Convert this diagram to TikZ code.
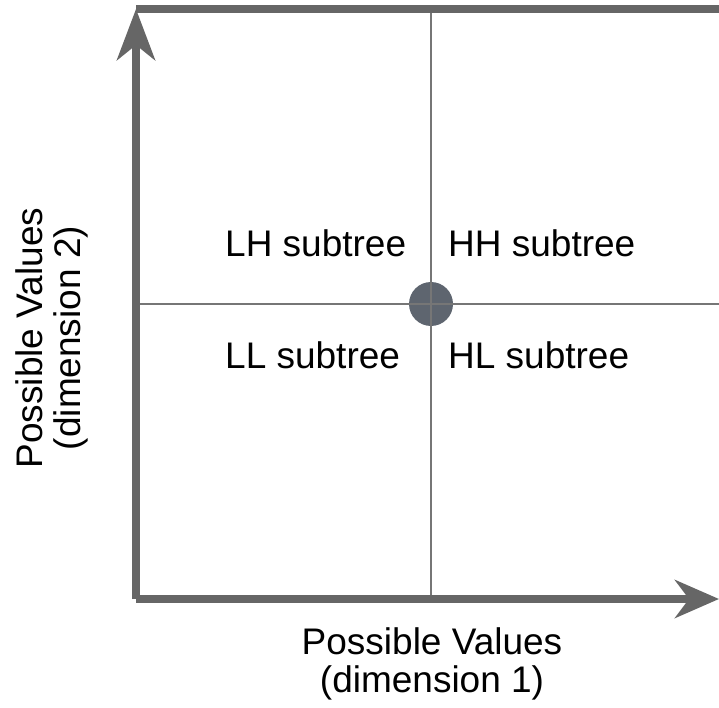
\documentclass[tikz,border=0pt]{standalone}
\usepackage{fontspec}
\setmainfont{Liberation Sans}
\usetikzlibrary{arrows.meta}
\definecolor{axisgray}{RGB}{102,102,102}
\definecolor{splitgray}{RGB}{118,118,118}
\definecolor{rootfill}{RGB}{94,101,111}
\begin{document}
\begin{tikzpicture}[x=1pt, y=-1pt, font=\fontsize{37}{38}\selectfont,
  axis/.style={draw=axisgray, line width=8pt},
  split/.style={draw=splitgray, line width=2pt},
  quad/.style={anchor=base west, inner sep=0pt},
  title/.style={align=center, inner sep=0pt, anchor=base}]
 \useasboundingbox (0,0) rectangle (719,708);
 \coordinate (o) at (136,599);
 \coordinate (ytip) at (136,9);
 \coordinate (xtip) at (719,599);
 \coordinate (tr) at (719,9);
 \node[circle, fill=rootfill, minimum size=44pt, inner sep=0pt] (root) at (431,304) {};
 % split lines through the root
 \draw[split] (root.center |- o) -- (root.center |- tr);
 \draw[split] (root.center -| o) -- (root.center -| xtip);
 % axes
 \draw[axis, -{Stealth[length=51pt, width=38pt, inset=15pt]}] (o) -- (ytip);
 \draw[axis, -{Stealth[length=44pt, width=38pt, inset=14pt]}] (o) -- (xtip);
 \draw[axis] (ytip) -- (tr);
 \node[quad] (lh) at (225,257) {LH subtree};
 \node[quad] (hh) at (448,257) {HH subtree};
 \node[quad] (ll) at (225,368) {LL subtree};
 \node[quad] (hl) at (448,368) {HL subtree};
 \node[title] (xlab) at (432,692) {Possible Values\\(dimension 1)};
 \node[title, rotate=90] (ylab) at (80,338) {Possible Values\\(dimension 2)};
\end{tikzpicture}
\end{document}
